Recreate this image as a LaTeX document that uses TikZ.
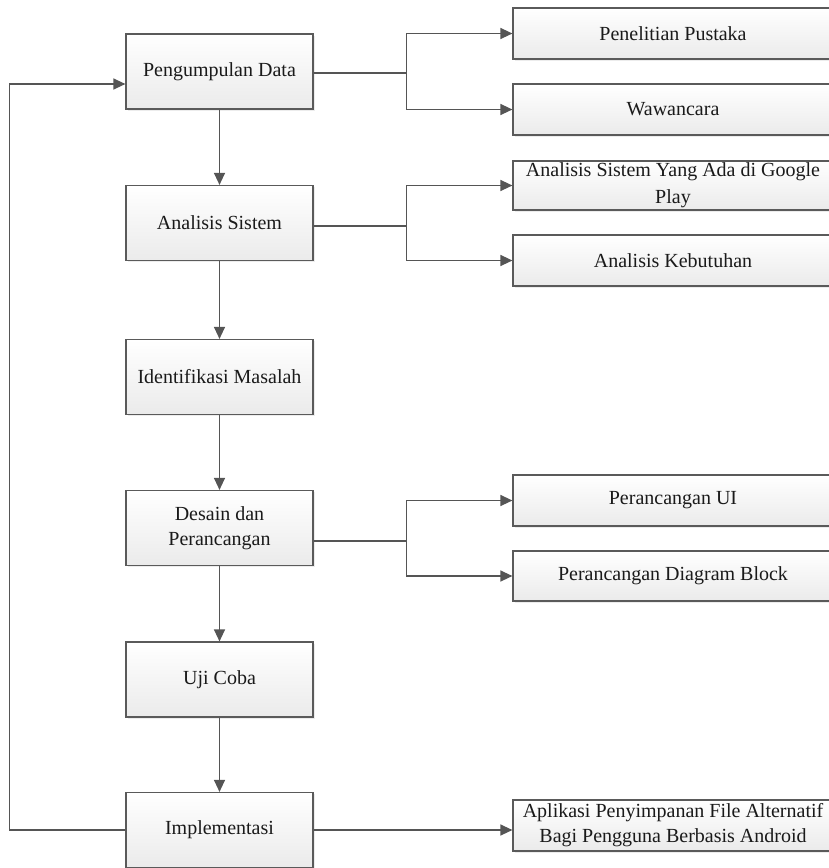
\documentclass[tikz,border=0pt]{standalone}
\usepackage{fontspec}
\setmainfont{Liberation Serif}
\usetikzlibrary{arrows.meta,shadows}
\definecolor{linegray}{HTML}{555555}
\definecolor{boxedge}{HTML}{5A5A5A}
\definecolor{inkcol}{HTML}{1A1A1A}
\tikzset{
  stage/.style={draw=boxedge, line width=1.2pt, top color=white, bottom color=black!8,
    minimum width=187pt, minimum height=75pt, inner sep=0pt, align=center, text=inkcol,
    font=\fontsize{20}{25}\selectfont,
    drop shadow={shadow xshift=1.5pt, shadow yshift=-1.5pt, opacity=0.15}},
  task/.style={stage, minimum width=320pt, minimum height=51pt},
  link/.style={draw=linegray, line width=1.3pt},
  flow/.style={link, -{Triangle[length=12pt,width=11pt]}},
}
\begin{document}
\begin{tikzpicture}[x=1pt,y=-1pt]
\useasboundingbox (0,0) rectangle (829,868);
\clip (0,0) rectangle (829,868);

% main sequence of stages
\node[stage] (pd)   at (219.5,71.5)  {Pengumpulan Data};
\node[stage] (as)   at (219.5,223)   {Analisis Sistem};
\node[stage] (im)   at (219.5,377)   {Identifikasi Masalah};
\node[stage] (dp)   at (219.5,528)   {Desain dan\\Perancangan};
\node[stage] (uc)   at (219.5,679.5) {Uji Coba};
\node[stage] (impl) at (219.5,830)   {Implementasi};

% detail tasks on the right
\node[task] (pp)  at (673,33.5)  {Penelitian Pustaka};
\node[task] (ww)  at (673,109.5) {Wawancara};
\node[task, minimum height=49pt] (asy) at (673,185.5) {Analisis Sistem Yang Ada di Google\\[2pt]Play};
\node[task] (ak)  at (673,260.5) {Analisis Kebutuhan};
\node[task] (pui) at (673,500.5) {Perancangan UI};
\node[task, minimum height=50pt] (pdb) at (673,576) {Perancangan Diagram Block};
\node[task] (apl) at (673,825.5) {Aplikasi Penyimpanan File Alternatif\\Bagi Pengguna Berbasis Android};

% downward flow
\draw[flow] (pd.south) -- (as.north);
\draw[flow] (as.south) -- (im.north);
\draw[flow] (im.south) -- (dp.north);
\draw[flow] (dp.south) -- (uc.north);
\draw[flow] (uc.south) -- (impl.north);

% branches to the detail tasks
\draw[link] ([yshift=-1.5pt]pd.east) -- ++(93,0) coordinate (j1);
\draw[flow] (j1) |- (pp.west);
\draw[flow] (j1) |- (ww.west);

\draw[link] ([yshift=-3pt]as.east) -- ++(93,0) coordinate (j2);
\draw[flow] (j2) |- (asy.west);
\draw[flow] (j2) |- (ak.west);

\draw[link] ([yshift=-13pt]dp.east) -- ++(93,0) coordinate (j3);
\draw[flow] (j3) |- (pui.west);
\draw[flow] (j3) |- (pdb.west);

\draw[flow] (impl.east) -- (impl.east -| apl.west);

% feedback loop back to the start
\draw[flow] (impl.west) -- ++(-116,0) |- ([yshift=-12.5pt]pd.west);
\end{tikzpicture}
\end{document}
